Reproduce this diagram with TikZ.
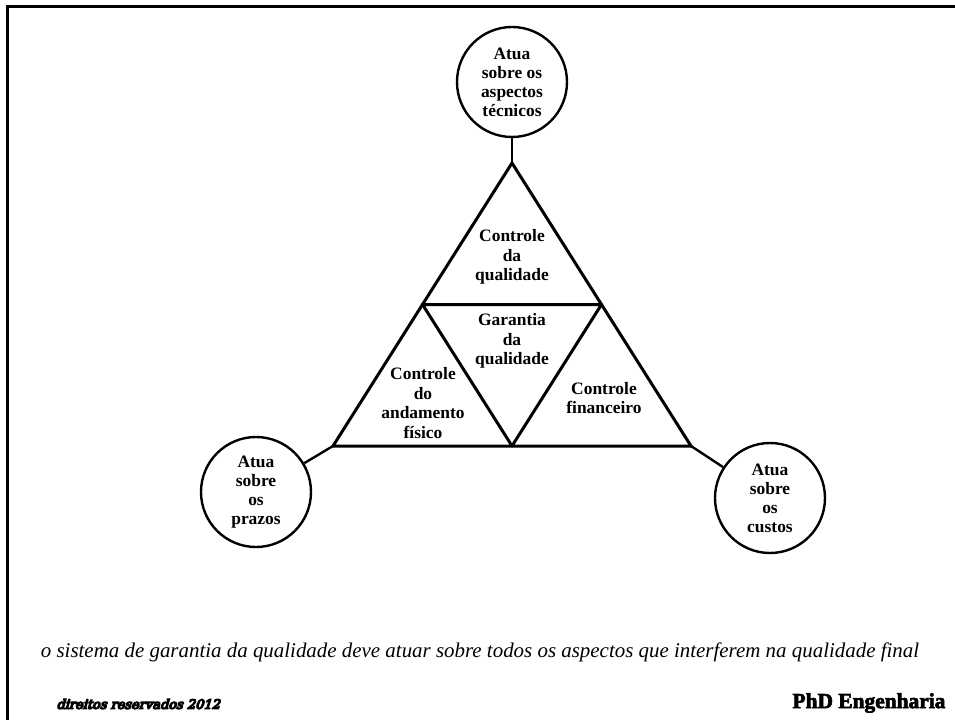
\documentclass[tikz,border=0pt]{standalone}
\usepackage{fontspec}
\setmainfont{Liberation Serif}
\newfontfamily\heavyital[FakeBold=10,FakeSlant=0.3]{DejaVu Serif}
\newfontfamily\phdfont[UprightFont={* Bold},FakeBold=3]{Liberation Serif}
\tikzset{
  ring/.style={circle, draw, line width=2.4bp, minimum size=110bp, inner sep=0pt, align=center,
               font=\bfseries\fontsize{17.5}{19}\selectfont},
  label/.style={align=center, inner sep=0pt, font=\bfseries\fontsize{17.5}{19.5}\selectfont},
  edge/.style={line width=3bp, line join=round},
  link/.style={line width=2.4bp},
  frame/.style={line width=3bp}
}
\begin{document}
\begin{tikzpicture}[x=1bp,y=-1bp]
\useasboundingbox (0,0) rectangle (955,720);
\draw[frame] (7.5,720) -- (7.5,6.5) -- (955,6.5);
% triangle vertices
\coordinate (A) at (512,163);
\coordinate (B) at (333,446);
\coordinate (C) at (691,446);
\coordinate (AB) at (422.5,304.5);
\coordinate (AC) at (601.5,304.5);
\coordinate (BC) at (512,446);
\draw[edge] (A) -- (B) -- (C) -- cycle;
\draw[edge] (AB) -- (AC) -- (BC) -- cycle;
% labels
\node[label] (cq) at (512,257) {Controle\\da\\qualidade};
\node[label] (gq) at (512,341) {Garantia\\da\\qualidade};
\node[label] (caf) at (423,403) {Controle\\do\\andamento\\físico};
\node[label] (cf) at (604,398) {Controle\\financeiro};
% circles
\node[ring] (ctop) at (512,82) {Atua\\sobre os\\aspectos\\técnicos};
\node[ring] (cleft) at (256,492) {Atua\\sobre\\os\\prazos};
\node[ring] (cright) at (770,498) {Atua\\sobre\\os\\custos};
\draw[link] (ctop) -- (A);
\draw[link] (cleft) -- (B);
\draw[link] (cright) -- (C);
% footer
\node[inner sep=0pt] (note) at (480,652) {\itshape\fontsize{21}{24}\selectfont o sistema de garantia da qualidade deve atuar sobre todos os aspectos que interferem na qualidade final};
\node[inner sep=0pt] (rights) at (138,704) {\heavyital\fontsize{13}{15}\selectfont direitos reservados 2012};
\node[inner sep=0pt] (brand) at (869,703) {\phdfont\fontsize{21.5}{23}\selectfont PhD Engenharia};
\end{tikzpicture}
\end{document}
